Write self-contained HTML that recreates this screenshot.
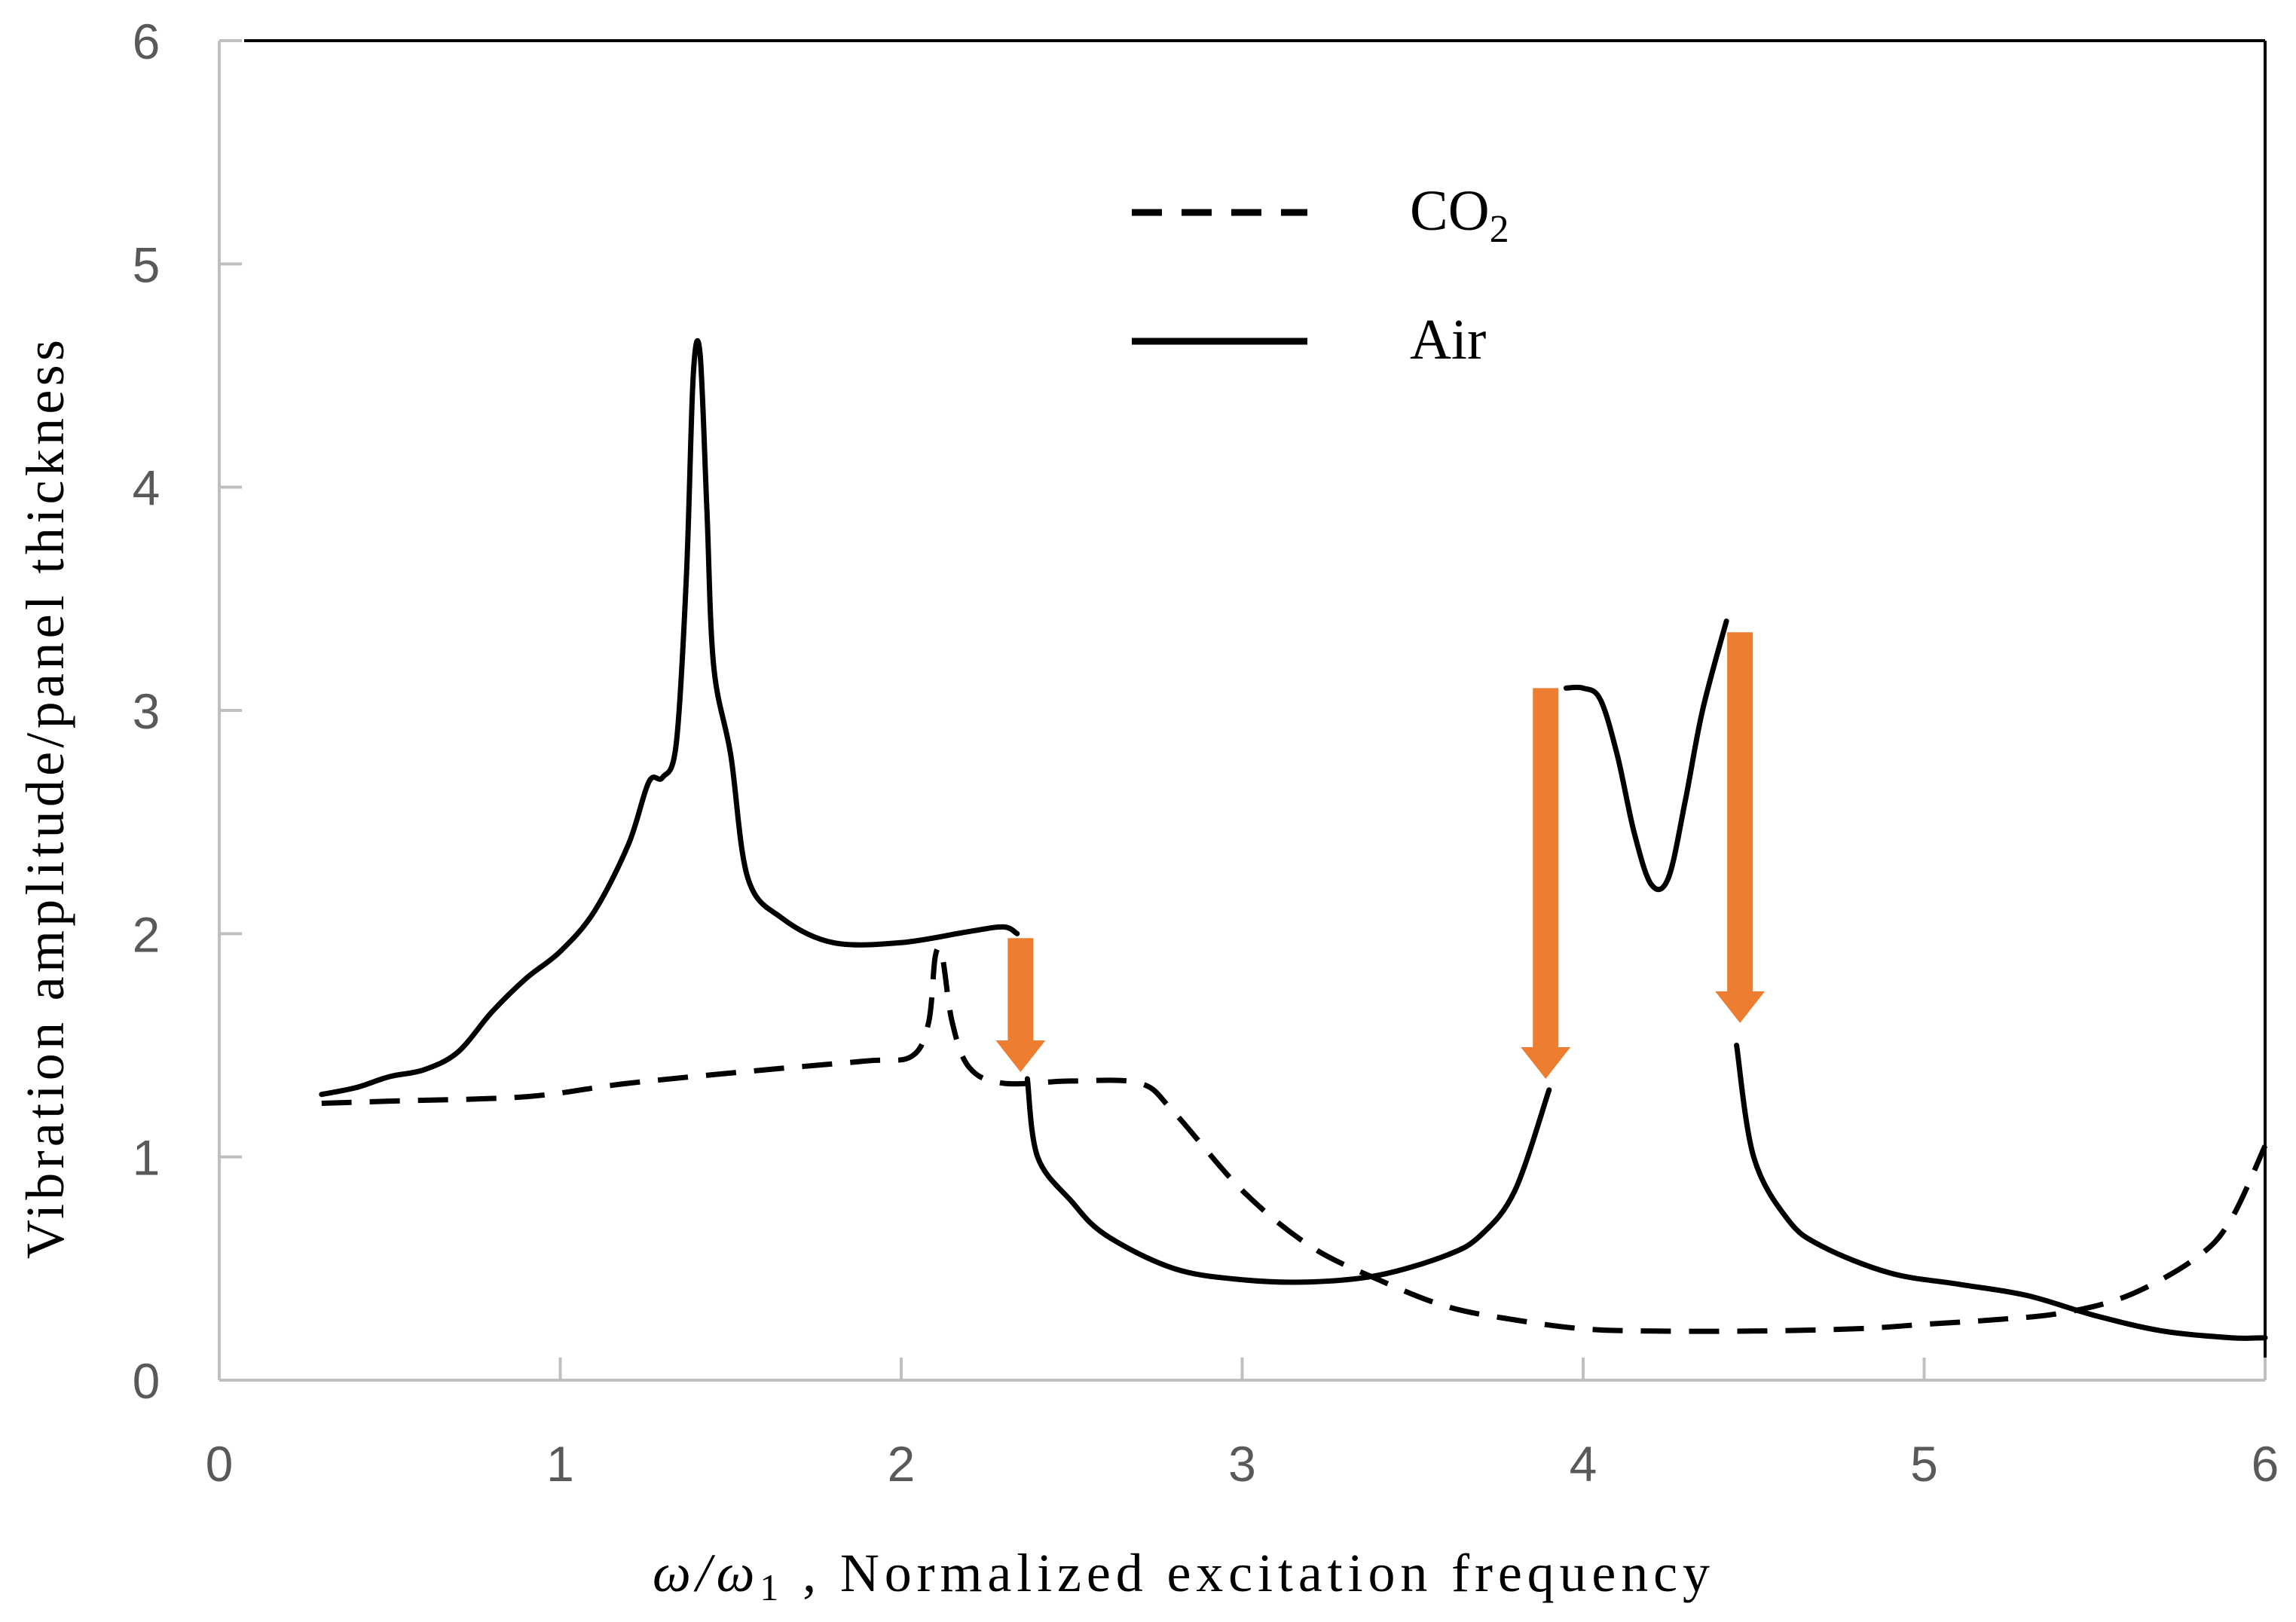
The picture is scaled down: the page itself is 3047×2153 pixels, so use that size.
<!DOCTYPE html>
<html><head><meta charset="utf-8"><style>
html,body{margin:0;padding:0;background:#fff;}
svg{display:block;}
</style></head><body>
<svg id="chart" width="3047" height="2153" viewBox="0 0 3047 2153">
<g id="axes"></g>
<g id="series"></g>
<g id="arrows"></g>
<g>
  <line x1="1502" y1="282" x2="1735" y2="282" stroke="#000" stroke-width="9" stroke-dasharray="40,26"/>
  <text x="1871" y="305" font-family="Liberation Serif, serif" font-size="76" fill="#000">CO<tspan font-size="52" dy="16">2</tspan></text>
  <line x1="1502" y1="453" x2="1735" y2="453" stroke="#000" stroke-width="9"/>
  <text x="1871" y="476" font-family="Liberation Serif, serif" font-size="76" fill="#000">Air</text>
</g>
<text x="866" y="2112" textLength="1403" lengthAdjust="spacing" font-family="Liberation Serif, serif" font-size="72" fill="#000"><tspan font-style="italic">ω/ω</tspan><tspan font-size="50" dy="12">1</tspan><tspan dy="-12"> ,  Normalized excitation frequency</tspan></text>
<text transform="translate(84,1061) rotate(-90)" text-anchor="middle" textLength="1220" lengthAdjust="spacing" font-family="Liberation Serif, serif" font-size="72" fill="#000">Vibration amplitude/panel thickness</text>
</svg>
<script>
const xTicks=[0,1,2,3,4,5,6];
const yTicks=[0,1,2,3,4,5,6];
const airX1=[0.3,0.4,0.5,0.6,0.7,0.8,0.9,1.0,1.1,1.2,1.26,1.3,1.34,1.37,1.39,1.41,1.43,1.45,1.5,1.55,1.65,1.8,2.0,2.2,2.3,2.34];
const airY1=[1.28,1.31,1.36,1.39,1.47,1.65,1.80,1.92,2.10,2.40,2.68,2.70,2.85,3.6,4.5,4.6,3.9,3.2,2.8,2.25,2.07,1.96,1.96,2.01,2.03,2.0];
const airX2=[2.37,2.4,2.5,2.6,2.8,3.0,3.2,3.4,3.6,3.7,3.8,3.9];
const airY2=[1.35,1.0,0.8,0.65,0.5,0.45,0.44,0.47,0.56,0.65,0.85,1.3];
const airX3=[3.95,4.0,4.05,4.1,4.15,4.2,4.25,4.3,4.35,4.42];
const airY3=[3.1,3.1,3.05,2.8,2.45,2.22,2.25,2.6,3.0,3.4];
const airX4=[4.45,4.5,4.6,4.7,4.9,5.1,5.3,5.5,5.7,5.9,6.0];
const airY4=[1.5,1.0,0.72,0.6,0.48,0.43,0.38,0.29,0.22,0.19,0.19];
const co2X=[0.3,0.5,0.9,1.2,1.6,1.9,2.03,2.08,2.1,2.12,2.15,2.2,2.3,2.5,2.7,2.8,3.0,3.2,3.4,3.6,3.8,4.0,4.2,4.5,4.8,5.0,5.2,5.4,5.6,5.8,5.9,6.0];
const co2Y=[1.24,1.25,1.27,1.33,1.39,1.43,1.45,1.6,1.9,1.9,1.6,1.4,1.33,1.34,1.33,1.2,0.85,0.6,0.45,0.33,0.27,0.23,0.22,0.22,0.23,0.25,0.27,0.30,0.38,0.55,0.72,1.05];
const arrowX=[2.35,3.89,4.46];
const arrowTop=[1.98,3.1,3.35];
const arrowTip=[1.38,1.35,1.6];

const X0=291,X1=3006,Y0=1832,Y1=54;
const sx=v=>X0+(X1-X0)*v/6;
const sy=v=>Y0-(Y0-Y1)*v/6;
const NS="http://www.w3.org/2000/svg";
function mk(tag,attrs,parent){const e=document.createElementNS(NS,tag);for(const k in attrs)e.setAttribute(k,attrs[k]);parent.appendChild(e);return e;}
const axes=document.getElementById('axes');
let e;
e=mk('line',{x1:X0,y1:Y1,x2:X0,y2:Y0,stroke:'#bfbfbf','stroke-width':4},axes);


e=mk('line',{x1:X0,y1:Y0,x2:X1,y2:Y0,stroke:'#bfbfbf','stroke-width':4},axes);


e=mk('line',{x1:324,y1:Y1,x2:X1,y2:Y1,stroke:'#000','stroke-width':4},axes);


e=mk('line',{x1:X1,y1:Y1,x2:X1,y2:Y0-30,stroke:'#000','stroke-width':4},axes);


yTicks.forEach(t=>{
  const m=mk('line',{x1:X0,y1:sy(t),x2:X0+30,y2:sy(t),stroke:'#bfbfbf','stroke-width':4},axes);
  
  
  const l=mk('text',{x:194,y:sy(t)+24,'text-anchor':'middle','font-family':'Liberation Sans, sans-serif','font-size':66,fill:'#595959'},axes);
  l.textContent=t;
  
  
});
xTicks.forEach(t=>{
  const m=mk('line',{x1:sx(t),y1:Y0,x2:sx(t),y2:Y0-30,stroke:'#bfbfbf','stroke-width':4},axes);
  
  
  const l=mk('text',{x:sx(t),y:1966,'text-anchor':'middle','font-family':'Liberation Sans, sans-serif','font-size':66,fill:'#595959'},axes);
  l.textContent=t;
  
  
});
const series=document.getElementById('series');
function smooth(xs,ys){
  const p=xs.map((x,i)=>[sx(x),sy(ys[i])]);
  let d='M'+p[0][0].toFixed(1)+','+p[0][1].toFixed(1);
  for(let i=0;i<p.length-1;i++){
    const p0=p[Math.max(0,i-1)],p1=p[i],p2=p[i+1],p3=p[Math.min(p.length-1,i+2)];
    const t=0.5/3;
    const c1=[p1[0]+(p2[0]-p0[0])*t,p1[1]+(p2[1]-p0[1])*t];
    const c2=[p2[0]-(p3[0]-p1[0])*t,p2[1]-(p3[1]-p1[1])*t];
    d+=` C${c1[0].toFixed(1)},${c1[1].toFixed(1)} ${c2[0].toFixed(1)},${c2[1].toFixed(1)} ${p2[0].toFixed(1)},${p2[1].toFixed(1)}`;
  }
  return d;
}
[[airX1,airY1],[airX2,airY2],[airX3,airY3],[airX4,airY4]].forEach((s,i)=>{
  const p=mk('path',{d:smooth(s[0],s[1]),fill:'none',stroke:'#000','stroke-width':7,'stroke-linejoin':'round','stroke-linecap':'round'},series);
  
  
});
const c=mk('path',{d:smooth(co2X,co2Y),fill:'none',stroke:'#000','stroke-width':7,'stroke-dasharray':'40,24','stroke-linejoin':'round'},series);


const arrows=document.getElementById('arrows');
arrowX.forEach((x,i)=>{
  const cx=sx(x),yt=sy(arrowTop[i]),yp=sy(arrowTip[i]),hw=33,hh=42,sw=17;
  const d=`M${cx-sw},${yt} L${cx+sw},${yt} L${cx+sw},${yp-hh} L${cx+hw},${yp-hh} L${cx},${yp} L${cx-hw},${yp-hh} L${cx-sw},${yp-hh} Z`;
  const a=mk('path',{d:d,fill:'#ED7D31'},arrows);
  
  
});
</script>
</body></html>
